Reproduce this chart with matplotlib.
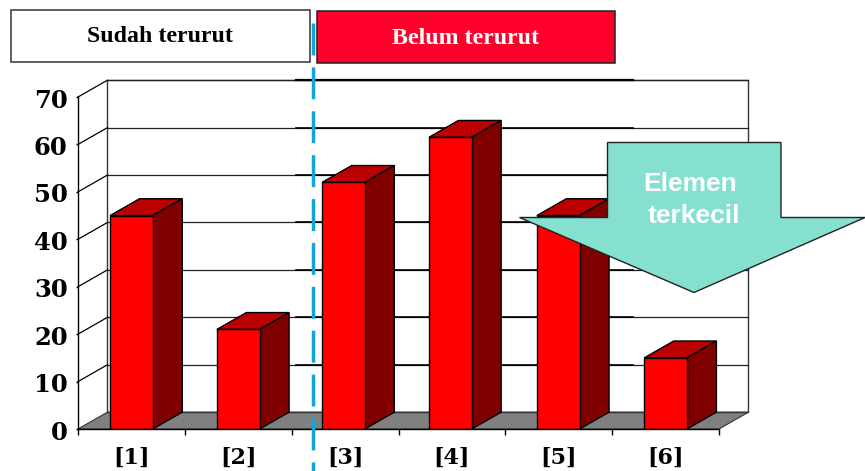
import numpy as np
import matplotlib
matplotlib.use('Agg')
import matplotlib.pyplot as plt
from matplotlib.patches import Polygon, Rectangle

categories = ['[1]', '[2]', '[3]', '[4]', '[5]', '[6]']
values = [45, 21, 52, 61.5, 45, 15]
y_ticks = [0, 10, 20, 30, 40, 50, 60, 70]

# depth of the fake 3D box, in data units
depth_x = 0.276
depth_y = 3.55
bar_width = 0.4

fig = plt.figure(figsize=(8.65, 4.71), dpi=100)
ax = fig.add_axes([78 / 865, 42 / 471, 641 / 865, 332 / 471])
ax.set_xlim(0, 6)
ax.set_ylim(0, 70)

for s in ['top', 'right']:
    ax.spines[s].set_visible(False)
for s in ['left', 'bottom']:
    ax.spines[s].set_linewidth(1.0)
    ax.spines[s].set_zorder(6)
ax.patch.set_visible(False)

# floor and back wall
ax.add_patch(Polygon([(0, 0), (6, 0), (6 + depth_x, depth_y), (depth_x, depth_y)],
                     closed=True, facecolor='#808080', edgecolor='#333333', lw=0.8,
                     clip_on=False, zorder=1))
ax.add_patch(Rectangle((depth_x, depth_y), 6, 70, facecolor='none', edgecolor='#333333',
                       lw=1.0, clip_on=False, zorder=2))

# grid on back wall and left side wall
for v in y_ticks[1:]:
    ax.plot([depth_x, 6 + depth_x], [v + depth_y, v + depth_y], color='#222222', lw=0.9,
            clip_on=False, zorder=2)
    ax.plot([0, depth_x], [v, v + depth_y], color='black', lw=0.9, clip_on=False, zorder=2)
    # heavier stretch of the grid in the middle
    ax.plot([2.04, 5.195], [v + depth_y, v + depth_y], color='black',
            lw=1.6 if v == 70 else 1.2, clip_on=False, zorder=2)

# bars: front from ax.bar, top and side faces offset by the depth
xpos = np.arange(len(values)) + 0.5 + np.array([0, 0, -0.015, -0.015, -0.005, 0])
ax.bar(xpos, values, width=bar_width, color='#FF0000', edgecolor='black', linewidth=1.0, zorder=4)
for x, v in zip(xpos, values):
    x0 = x - bar_width / 2
    x1 = x + bar_width / 2
    ax.add_patch(Polygon([(x0, v), (x1, v), (x1 + depth_x, v + depth_y), (x0 + depth_x, v + depth_y)],
                         closed=True, facecolor='#BA0000', edgecolor='black', lw=1.0, zorder=3))
    ax.add_patch(Polygon([(x1, 0), (x1 + depth_x, depth_y), (x1 + depth_x, v + depth_y), (x1, v)],
                         closed=True, facecolor='#800000', edgecolor='black', lw=1.0, zorder=3))

ax.set_yticks(y_ticks)
ax.set_yticklabels([])
ax.tick_params(axis='y', length=1.5, width=1.0)
for v in y_ticks:
    ax.annotate(str(v), (0, v), xytext=(-7.5, -2.6), textcoords='offset points', ha='right', va='center',
                fontfamily='DejaVu Serif', fontweight='bold', fontsize=17.5)
ax.set_xticks(range(7))
ax.set_xticklabels([])
ax.tick_params(axis='x', length=4.5, width=1.0)
for x, name in zip(np.arange(len(categories)) + 0.5, categories):
    ax.annotate(name, (x, 0), xytext=(0, -20.5), textcoords='offset points', ha='center', va='center',
                fontfamily='DejaVu Serif', fontweight='bold', fontsize=16)

# slide annotations on top, in pixel coordinates
over = fig.add_axes([0, 0, 1, 1])
over.set_xlim(0, 865)
over.set_ylim(471, 0)
over.axis('off')

over.plot([312.5, 312.5], [23, 471], color='#12A5DA', lw=2.5, dashes=(23 / 2.5, 8.6 / 2.5),
          dash_capstyle='butt', zorder=5)

over.add_patch(Rectangle((11, 9.5), 298.5, 52.5, facecolor='white', edgecolor='#333333', lw=1.1, zorder=6))
over.add_patch(Rectangle((316.5, 10.5), 298.5, 52, facecolor='#FF002B', edgecolor='#222222', lw=1.1, zorder=6))
over.text(160, 37, 'Sudah terurut', ha='center', va='center', family='Liberation Serif',
          fontweight='bold', fontsize=17.2, color='black', zorder=7)
over.text(465.5, 38, 'Belum terurut', ha='center', va='center', family='Liberation Serif',
          fontweight='bold', fontsize=17.2, color='white', zorder=7)

arrow = [(607.5, 142.5), (781, 142.5), (781, 217.5), (865, 217.5), (694, 292.5), (519.5, 217.5), (607.5, 217.5)]
over.add_patch(Polygon(arrow, closed=True, facecolor='#86E0D0', edgecolor='#222222', lw=1.0, zorder=8))
over.text(690, 184, 'Elemen', ha='center', va='center', family='Liberation Sans', fontweight='bold',
          fontsize=19, color='white', zorder=9)
over.text(693.5, 216, 'terkecil', ha='center', va='center', family='Liberation Sans', fontweight='bold',
          fontsize=19, color='white', zorder=9)

fig.savefig('out.png', dpi=100)
